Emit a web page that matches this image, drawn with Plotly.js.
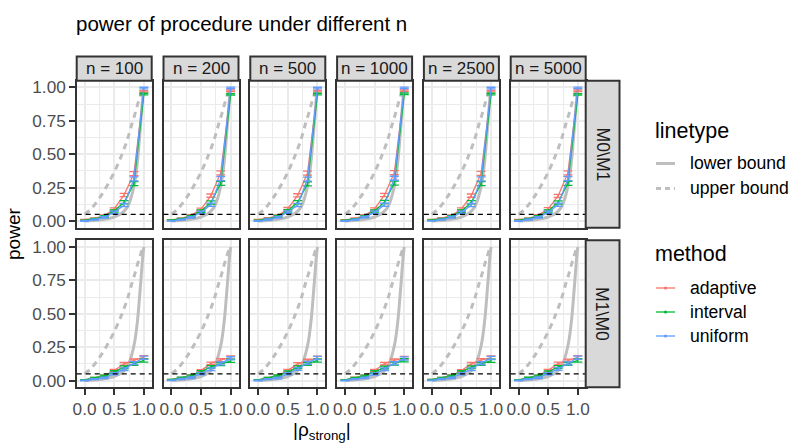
<!DOCTYPE html>
<html><head><meta charset="utf-8">
<script src="https://cdn.plot.ly/plotly-3.0.1.min.js"></script>
<style>html,body{margin:0;padding:0;background:#fff}#chart{width:793px;height:444px}</style>
</head><body><div id="chart"></div>
<script>
const W = 793, H = 444;
const nLabels = ['n = 100', 'n = 200', 'n = 500', 'n = 1000', 'n = 2500', 'n = 5000'];
const rowLabels = ['M0\\M1', 'M1\\M0'];
const methods = ['adaptive', 'interval', 'uniform'];
const methodColors = ['#F8766D', '#00BA38', '#619CFF'];
const boundNames = ['lower bound', 'upper bound'];
const rho = [0, 0.167, 0.333, 0.5, 0.667, 0.833, 1];
const xTickVals = [0, 0.5, 1];
const xTickText = ['0.0', '0.5', '1.0'];
const yTickVals = [0, 0.25, 0.5, 0.75, 1];
const yTickText = ['0.00', '0.25', '0.50', '0.75', '1.00'];
const alphaLevel = 0.05;

// theoretical bounds on a fine rho grid
const rhoGrid    = [0, 0.1, 0.2, 0.3, 0.4, 0.5, 0.6, 0.7, 0.75, 0.8, 0.85, 0.9, 0.95, 0.98, 1.0];
const lowerBound = [0, 0.002, 0.005, 0.01, 0.018, 0.03, 0.05, 0.09, 0.13, 0.2, 0.3, 0.48, 0.75, 0.92, 1.0];
const upperBound = [0.05, 0.085, 0.14, 0.205, 0.28, 0.365, 0.465, 0.58, 0.65, 0.73, 0.8, 0.88, 0.95, 0.99, 1.0];

// power estimates, one row per n (100, 200, 500, 1000, 2500, 5000)
const adaptiveM0M1 = [
  [0.010, 0.020, 0.040, 0.090, 0.195, 0.355, 0.970],
  [0.008, 0.020, 0.042, 0.088, 0.190, 0.360, 0.975],
  [0.010, 0.022, 0.040, 0.092, 0.192, 0.358, 0.972],
  [0.009, 0.020, 0.041, 0.090, 0.195, 0.362, 0.975],
  [0.010, 0.021, 0.040, 0.090, 0.190, 0.356, 0.972],
  [0.010, 0.020, 0.042, 0.091, 0.188, 0.360, 0.975]];
const intervalM0M1 = [
  [0.005, 0.015, 0.035, 0.075, 0.140, 0.280, 0.950],
  [0.006, 0.016, 0.034, 0.074, 0.138, 0.282, 0.948],
  [0.005, 0.015, 0.036, 0.076, 0.140, 0.278, 0.950],
  [0.005, 0.014, 0.035, 0.075, 0.142, 0.284, 0.952],
  [0.006, 0.015, 0.035, 0.074, 0.140, 0.280, 0.950],
  [0.005, 0.016, 0.034, 0.075, 0.139, 0.282, 0.948]];
const uniformM0M1 = [
  [0.000, 0.010, 0.028, 0.065, 0.120, 0.315, 0.995],
  [0.001, 0.010, 0.027, 0.064, 0.122, 0.318, 0.996],
  [0.000, 0.011, 0.028, 0.066, 0.120, 0.314, 0.995],
  [0.000, 0.010, 0.029, 0.065, 0.121, 0.320, 0.996],
  [0.001, 0.010, 0.028, 0.064, 0.119, 0.316, 0.995],
  [0.000, 0.010, 0.027, 0.065, 0.122, 0.318, 0.996]];
const adaptiveM1M0 = [
  [0.005, 0.020, 0.035, 0.075, 0.125, 0.150, 0.175],
  [0.006, 0.019, 0.036, 0.074, 0.128, 0.152, 0.172],
  [0.005, 0.020, 0.034, 0.076, 0.124, 0.148, 0.170],
  [0.005, 0.021, 0.035, 0.075, 0.126, 0.150, 0.168],
  [0.006, 0.020, 0.036, 0.074, 0.125, 0.152, 0.172],
  [0.005, 0.019, 0.035, 0.076, 0.127, 0.149, 0.174]];
const intervalM1M0 = [
  [0.005, 0.020, 0.035, 0.065, 0.100, 0.125, 0.150],
  [0.006, 0.021, 0.034, 0.066, 0.102, 0.122, 0.148],
  [0.005, 0.020, 0.036, 0.064, 0.100, 0.124, 0.150],
  [0.005, 0.019, 0.035, 0.066, 0.098, 0.126, 0.152],
  [0.006, 0.020, 0.034, 0.065, 0.100, 0.124, 0.148],
  [0.005, 0.021, 0.035, 0.064, 0.101, 0.125, 0.150]];
const uniformM1M0 = [
  [0.000, 0.010, 0.020, 0.050, 0.085, 0.130, 0.170],
  [0.001, 0.011, 0.021, 0.051, 0.084, 0.128, 0.166],
  [0.000, 0.010, 0.019, 0.050, 0.086, 0.132, 0.168],
  [0.000, 0.010, 0.020, 0.049, 0.085, 0.130, 0.165],
  [0.001, 0.011, 0.020, 0.050, 0.084, 0.131, 0.168],
  [0.000, 0.010, 0.021, 0.051, 0.086, 0.129, 0.170]];
const errM0M1 = [0.002, 0.004, 0.006, 0.009, 0.012, 0.015, 0.006];
const errM1M0 = [0.002, 0.004, 0.006, 0.008, 0.010, 0.011, 0.012];

const powerByRow = [[adaptiveM0M1, intervalM0M1, uniformM0M1], [adaptiveM1M0, intervalM1M0, uniformM1M0]];
const errByRow = [errM0M1, errM1M0];

// ---- layout geometry (pixels) ----
const panelLeft = 76.7, panelW = 75, panelStep = 86.8;
const rowTop = [80.7, 240.2], panelH = 147;
const stripTop = 56.5;
const rightStripX0 = 585.7, rightStripX1 = 619.5;
const px = v => v / W, py = v => 1 - v / H;

const FONT = 'Liberation Sans, Arial, Helvetica, sans-serif';
const gridCol = '#EBEBEB', borderCol = '#333333';
const grey = 'rgb(190,190,190)';

const traces = [];
const layout = {
  width: W, height: H, margin: {l: 0, r: 0, t: 0, b: 0, pad: 0},
  paper_bgcolor: '#fff', plot_bgcolor: '#fff', showlegend: false,
  font: {family: FONT, color: '#4D4D4D'},
  shapes: [], annotations: []
};

for (let r = 0; r < 2; r++) {
  for (let c = 0; c < 6; c++) {
    const i = r * 6 + c + 1;
    const xs = i === 1 ? 'x' : 'x' + i, ys = i === 1 ? 'y' : 'y' + i;
    const xa = i === 1 ? 'xaxis' : 'xaxis' + i, ya = i === 1 ? 'yaxis' : 'yaxis' + i;
    const x0 = panelLeft + c * panelStep;
    layout[xa] = {
      domain: [px(x0), px(x0 + panelW)], anchor: ys, range: [-0.1325, 1.1325],
      tickmode: 'array', tickvals: xTickVals, ticktext: xTickText,
      showticklabels: r === 1, ticks: r === 1 ? 'outside' : '', ticklen: 5.5, tickwidth: 2, tickcolor: borderCol,
      tickfont: {size: 17.2, color: '#4D4D4D', family: FONT},
      showgrid: true, gridcolor: gridCol, gridwidth: 2,
      minor: {tickmode: 'array', tickvals: [0.25, 0.75], showgrid: true, gridcolor: gridCol, gridwidth: 1, ticks: ''},
      showline: true, mirror: true, linecolor: borderCol, linewidth: 2, zeroline: false, fixedrange: true
    };
    layout[ya] = {
      domain: [py(rowTop[r] + panelH), py(rowTop[r])], anchor: xs, range: [-0.05, 1.05],
      tickmode: 'array', tickvals: yTickVals, ticktext: yTickText,
      showticklabels: c === 0, ticks: c === 0 ? 'outside' : '', ticklen: 5.5, tickwidth: 2, tickcolor: borderCol,
      tickfont: {size: 17.2, color: '#4D4D4D', family: FONT},
      showgrid: true, gridcolor: gridCol, gridwidth: 2,
      minor: {tickmode: 'array', tickvals: [0.125, 0.375, 0.625, 0.875], showgrid: true, gridcolor: gridCol, gridwidth: 1, ticks: ''},
      showline: true, mirror: true, linecolor: borderCol, linewidth: 2, zeroline: false, fixedrange: true
    };
    // bounds
    traces.push({x: rhoGrid, y: lowerBound, xaxis: xs, yaxis: ys, mode: 'lines', name: boundNames[0],
      line: {color: grey, width: 3, shape: 'spline', smoothing: 0.6}, hoverinfo: 'skip'});
    traces.push({x: rhoGrid, y: upperBound, xaxis: xs, yaxis: ys, mode: 'lines', name: boundNames[1],
      line: {color: grey, width: 3, dash: '6px,5px', shape: 'spline', smoothing: 0.6}, hoverinfo: 'skip'});
    // methods
    for (let m = 0; m < 3; m++) {
      traces.push({x: rho, y: powerByRow[r][m][c], xaxis: xs, yaxis: ys, mode: 'lines', name: methods[m],
        line: {color: methodColors[m], width: 1.3},
        error_y: {type: 'data', array: errByRow[r], visible: true, color: methodColors[m], thickness: 1.3, width: 4.5}});
    }
    // alpha reference line
    layout.shapes.push({type: 'line', xref: xs + ' domain', x0: 0, x1: 1, yref: ys, y0: alphaLevel, y1: alphaLevel,
      line: {color: '#000', width: 1.3, dash: '5px,4px'}});
  }
}

// top strips
for (let c = 0; c < 6; c++) {
  const x0 = panelLeft + c * panelStep;
  layout.shapes.push({type: 'rect', xref: 'paper', yref: 'paper', x0: px(x0), x1: px(x0 + panelW),
    y0: py(rowTop[0]), y1: py(stripTop), fillcolor: '#D9D9D9', line: {color: borderCol, width: 2}});
  layout.annotations.push({xref: 'paper', yref: 'paper', x: px(x0 + panelW / 2), y: py((stripTop + rowTop[0]) / 2),
    text: nLabels[c], showarrow: false, xanchor: 'center', yanchor: 'middle',
    font: {size: 17, color: '#1A1A1A', family: FONT}});
}
// right strips
for (let r = 0; r < 2; r++) {
  layout.shapes.push({type: 'rect', xref: 'paper', yref: 'paper', x0: px(rightStripX0), x1: px(rightStripX1),
    y0: py(rowTop[r] + panelH), y1: py(rowTop[r]), fillcolor: '#D9D9D9', line: {color: borderCol, width: 2}});
  layout.annotations.push({xref: 'paper', yref: 'paper', x: px((rightStripX0 + rightStripX1) / 2), y: py(rowTop[r] + panelH / 2),
    text: rowLabels[r], textangle: 90, showarrow: false, xanchor: 'center', yanchor: 'middle',
    font: {size: 17.6, color: '#1A1A1A', family: FONT}});
}

// titles
layout.annotations.push({xref: 'paper', yref: 'paper', x: px(74), y: py(23), text: 'power of procedure under different n',
  showarrow: false, xanchor: 'left', yanchor: 'middle', font: {size: 20.5, color: '#000', family: FONT}});
layout.annotations.push({xref: 'paper', yref: 'paper', x: px(14), y: py((rowTop[0] + rowTop[1] + panelH) / 2), text: 'power',
  textangle: -90, showarrow: false, xanchor: 'center', yanchor: 'middle', font: {size: 19, color: '#000', family: FONT}});
layout.annotations.push({xref: 'paper', yref: 'paper', x: px(322), y: py(431),
  text: '|ρ<sub>strong</sub>|', showarrow: false, xanchor: 'center', yanchor: 'middle', font: {size: 19, color: '#000', family: FONT}});

// legends (manual)
const legX = 653, keyX0 = 656, keyX1 = 675, labX = 688;
layout.annotations.push({xref: 'paper', yref: 'paper', x: px(legX), y: py(131), text: 'linetype', showarrow: false,
  xanchor: 'left', yanchor: 'middle', font: {size: 21.5, color: '#000', family: FONT}});
const ltY = [163.5, 188.5];
boundNames.forEach((nm, k) => {
  layout.shapes.push({type: 'line', xref: 'paper', yref: 'paper', x0: px(keyX0), x1: px(keyX1), y0: py(ltY[k]), y1: py(ltY[k]),
    line: {color: grey, width: 3, dash: k === 0 ? 'solid' : '5px,4px'}});
  layout.annotations.push({xref: 'paper', yref: 'paper', x: px(labX), y: py(ltY[k]), text: nm, showarrow: false,
    xanchor: 'left', yanchor: 'middle', font: {size: 17.6, color: '#000', family: FONT}});
});
layout.annotations.push({xref: 'paper', yref: 'paper', x: px(legX), y: py(254), text: 'method', showarrow: false,
  xanchor: 'left', yanchor: 'middle', font: {size: 21.5, color: '#000', family: FONT}});
const mY = [288, 312, 336];
methods.forEach((nm, k) => {
  layout.shapes.push({type: 'line', xref: 'paper', yref: 'paper', x0: px(keyX0), x1: px(keyX1), y0: py(mY[k]), y1: py(mY[k]),
    line: {color: methodColors[k], width: 1.3}});
  layout.shapes.push({type: 'circle', xref: 'paper', yref: 'paper', x0: px(665.5 - 1.6), x1: px(665.5 + 1.6),
    y0: py(mY[k] + 1.6), y1: py(mY[k] - 1.6), fillcolor: methodColors[k], line: {width: 0}});
  layout.annotations.push({xref: 'paper', yref: 'paper', x: px(labX), y: py(mY[k]), text: nm, showarrow: false,
    xanchor: 'left', yanchor: 'middle', font: {size: 17.6, color: '#000', family: FONT}});
});

Plotly.newPlot('chart', traces, layout, {staticPlot: true, displayModeBar: false});
</script></body></html>
